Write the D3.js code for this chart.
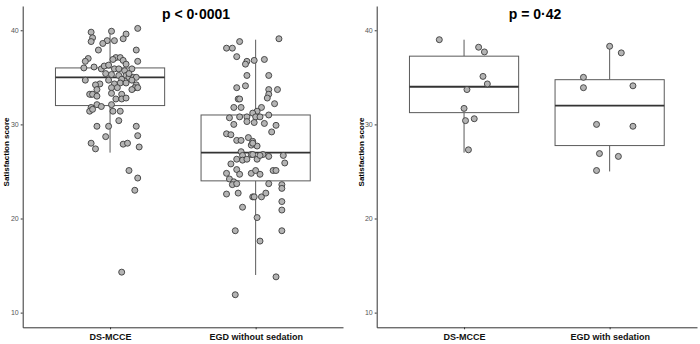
<!DOCTYPE html>
<html><head><meta charset="utf-8">
<script src="https://cdn.jsdelivr.net/npm/d3@7"></script>
<style>body{margin:0;background:#fff}svg{display:block}</style>
</head><body>
<svg id="c" width="700" height="344"></svg>
<script>
// ---------- DATA ----------
const leftCategories = ["DS-MCCE", "EGD without sedation"];
const rightCategories = ["DS-MCCE", "EGD with sedation"];
const leftTitle = "p < 0·0001";
const rightTitle = "p = 0·42";
const yTicks = [10, 20, 30, 40];
const yLabel = "Satisfaction score";

// box stats: [lower whisker, q1, median, q3, upper whisker]
const leftBoxes = [[27, 32, 35, 36, 40], [14, 24, 27, 31, 39]];
const rightBoxes = [[27, 31.25, 34, 37.25, 39], [25, 27.75, 32, 34.75, 38.5]];

// scores and horizontal jitter (category units) of each patient
const leftA_scores = [39.8,39.2,38.8,39.9,40.2,39.6,39.1,38.9,38.9,38.6,37.9,37.9,37.0,36.7,37.1,37.1,36.9,36.8,36.7,36.4,36.0,36.1,35.9,36.2,36.3,35.9,35.9,35.9,35.4,35.7,34.7,35.3,35.2,35.2,35.0,35.0,35.0,34.8,34.7,34.3,34.2,33.2,33.7,34.3,34.4,34.4,34.2,33.9,33.9,33.9,33.2,33.2,33.0,33.3,33.2,32.7,32.7,32.8,32.1,31.9,32.1,31.8,31.4,31.6,31.4,31.4,30.4,29.8,29.8,29.8,28.7,28.8,28.0,27.4,27.9,28.0,27.6,25.1,24.3,23.0,14.3,35.4,34.7,33.9,33.7];
const leftA_jitter = [-0.13,-0.12,-0.13,0.01,0.19,0.11,0.09,-0.02,0.03,-0.05,0.18,-0.08,-0.15,-0.17,0.04,0.07,0.02,0.09,0.19,0.11,-0.18,-0.11,-0.06,-0.04,-0.01,0.03,0.06,0.15,-0.03,0.10,-0.17,0.01,0.06,0.11,0.13,0.16,0.18,0.08,0.15,-0.07,-0.10,-0.13,-0.09,0.03,0.07,0.11,0.18,0.17,0.19,0.01,-0.14,-0.12,-0.09,0.01,0.08,0.04,0.08,0.11,-0.09,-0.06,0.01,-0.13,-0.14,-0.12,0.02,0.07,0.06,-0.09,-0.01,0.18,-0.03,0.19,-0.13,-0.10,0.09,0.12,0.20,0.13,0.19,0.17,0.08,0.13,-0.01,0.05,0.15];

const leftB_scores = [39.1,38.8,38.1,38.1,37.2,36.9,36.7,36.4,36.8,35.2,35.2,34.1,33.9,33.7,32.7,32.7,33.7,33.2,32.8,32.2,31.8,31.8,31.8,31.4,31.2,30.8,30.8,30.7,31.0,30.8,30.8,30.3,30.2,30.1,30.0,29.9,29.0,28.9,29.2,28.6,28.3,28.3,28.2,27.8,27.7,28.0,27.1,26.7,26.3,26.8,26.8,26.8,26.7,26.6,26.2,26.3,26.3,26.7,25.8,25.9,25.2,24.7,24.8,24.8,25.1,24.7,25.1,25.1,24.2,23.9,23.6,23.7,23.7,23.6,22.6,22.7,22.3,22.3,22.3,22.7,23.2,21.2,21.8,20.1,20.9,18.7,18.7,17.6,13.8,11.9];
const leftB_jitter = [0.16,-0.11,-0.20,-0.16,-0.13,0.06,-0.06,-0.07,-0.01,-0.06,0.09,-0.07,-0.13,0.09,-0.12,-0.11,0.15,0.09,0.08,0.13,-0.15,-0.10,0.04,0.01,-0.02,-0.06,-0.11,-0.18,0.09,0.00,0.03,-0.06,-0.01,0.06,-0.15,0.14,-0.20,-0.17,0.11,-0.05,-0.13,-0.10,-0.02,-0.03,0.01,-0.02,-0.10,-0.09,-0.13,-0.03,-0.02,0.05,0.19,0.09,-0.09,-0.06,0.01,0.03,-0.17,0.20,-0.13,-0.11,-0.20,-0.03,0.00,0.03,0.12,0.14,-0.18,-0.15,-0.16,-0.13,0.09,0.18,-0.20,-0.12,-0.02,-0.01,0.04,0.07,0.18,-0.09,0.18,0.01,0.18,-0.14,0.18,0.03,0.14,-0.14];

const rightA_scores = [39.0,38.2,37.7,35.1,34.3,33.7,31.7,30.4,30.6,27.3];
const rightA_jitter = [-0.17,0.10,0.14,0.13,0.16,0.02,0.00,0.01,0.07,0.03];
const rightB_scores = [38.3,37.6,35.0,33.9,34.1,30.0,29.8,26.9,26.6,25.1];
const rightB_jitter = [0.00,0.08,-0.18,-0.18,0.16,-0.09,0.16,-0.07,0.06,-0.09];

// ---------- DRAW ----------
const svg = d3.select("#c");
const yTop = 6, yBottom = 327.3;

function panel(opts) {
  const g = svg.append("g");
  const y = d3.scaleLinear().domain([8.44, 42.58]).range([yBottom, yTop]);
  const x = d3.scalePoint().domain(opts.cats).range([opts.x0, opts.x1]).padding(0.6);
  const step = x.step();
  const bw = step * 0.75;

  // boxes
  opts.boxes.forEach((b, i) => {
    const cx = x(opts.cats[i]);
    const bg = g.append("g");
    bg.append("line").attr("x1", cx).attr("x2", cx).attr("y1", y(b[0])).attr("y2", y(b[1]))
      .attr("stroke", "#5a5a5a").attr("stroke-width", 1);
    bg.append("line").attr("x1", cx).attr("x2", cx).attr("y1", y(b[3])).attr("y2", y(b[4]))
      .attr("stroke", "#5a5a5a").attr("stroke-width", 1);
    bg.append("rect").attr("x", cx - bw / 2).attr("y", y(b[3]))
      .attr("width", bw).attr("height", y(b[1]) - y(b[3]))
      .attr("fill", "#fff").attr("stroke", "#5a5a5a").attr("stroke-width", 1);
    bg.append("line").attr("x1", cx - bw / 2).attr("x2", cx + bw / 2)
      .attr("y1", y(b[2])).attr("y2", y(b[2]))
      .attr("stroke", "#333", ).attr("stroke-width", 1.8);
  });

  // points
  opts.points.forEach((p, i) => {
    const cx = x(opts.cats[i]);
    g.append("g").selectAll("circle").data(p.scores).join("circle")
      .attr("cx", (d, k) => cx + p.jitter[k] * step)
      .attr("cy", d => y(d))
      .attr("r", 3)
      .attr("fill", "#b4b4b4").attr("stroke", "#3c3c3c").attr("stroke-width", 0.9);
  });

  // axes
  const ya = g.append("g").attr("transform", `translate(${opts.x0},0)`)
    .call(d3.axisLeft(y).tickValues(yTicks).tickSize(2).tickSizeOuter(0).tickPadding(2));
  ya.select(".domain").attr("stroke", "#333").attr("stroke-width", 1);
  ya.selectAll(".tick line").attr("stroke", "#333");
  ya.selectAll(".tick text").attr("fill", "#555").attr("font-size", "7px")
    .attr("font-family", "Liberation Sans, Arial, sans-serif");

  const xa = g.append("g").attr("transform", `translate(0,${yBottom})`)
    .call(d3.axisBottom(x).tickSize(2).tickSizeOuter(0).tickPadding(4));
  xa.select(".domain").attr("stroke", "#333").attr("stroke-width", 1);
  xa.selectAll(".tick line").attr("stroke", "#333");
  xa.selectAll(".tick text").attr("fill", "#111").attr("font-size", "9px")
    .attr("font-weight", "bold").attr("font-family", "Liberation Sans, Arial, sans-serif");

  // titles
  g.append("text").attr("x", opts.titleX).attr("y", 19).attr("text-anchor", "middle")
    .attr("font-family", "Liberation Sans, Arial, sans-serif").attr("font-weight", "bold")
    .attr("font-size", "14px").attr("fill", "#000").text(opts.title);
  g.append("text").attr("transform", `translate(${opts.labelX},152) rotate(-90)`)
    .attr("text-anchor", "middle")
    .attr("font-family", "Liberation Sans, Arial, sans-serif").attr("font-weight", "bold")
    .attr("font-size", "8px").attr("fill", "#000").text(yLabel);
}

panel({
  cats: leftCategories, x0: 22.7, x1: 343, boxes: leftBoxes,
  points: [{scores: leftA_scores, jitter: leftA_jitter}, {scores: leftB_scores, jitter: leftB_jitter}],
  title: leftTitle, titleX: 196, labelX: 9
});
panel({
  cats: rightCategories, x0: 376.7, x1: 697, boxes: rightBoxes,
  points: [{scores: rightA_scores, jitter: rightA_jitter}, {scores: rightB_scores, jitter: rightB_jitter}],
  title: rightTitle, titleX: 535, labelX: 364
});
</script>
</body></html>
